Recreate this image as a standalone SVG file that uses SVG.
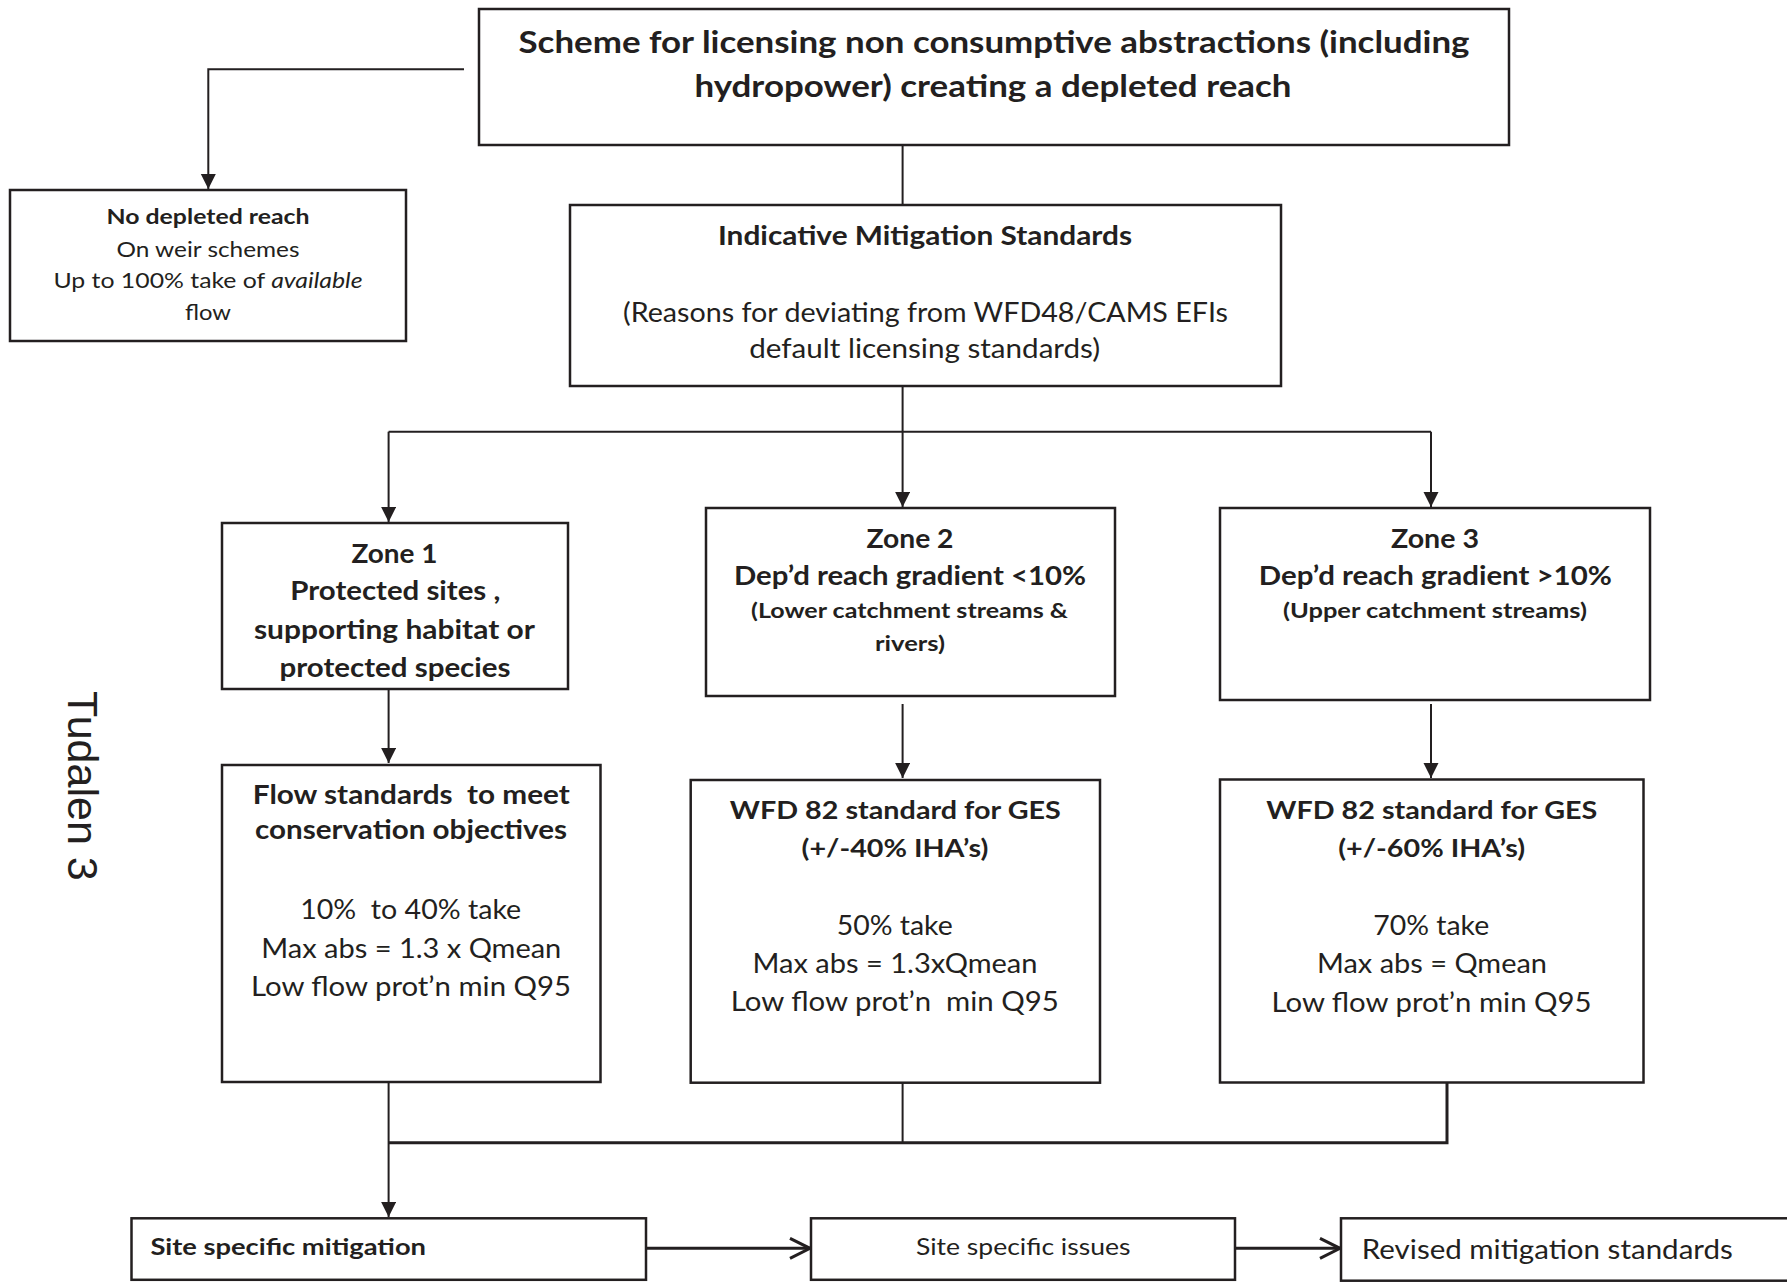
<svg xmlns="http://www.w3.org/2000/svg" width="1787" height="1285" viewBox="0 0 1787 1285">
<style>
.box{fill:#fff;stroke:#231f20;stroke-width:2.5}
.ln{fill:none;stroke:#231f20;stroke-width:2}
.lt{fill:none;stroke:#231f20;stroke-width:3}
text{font-family:Lato,"Open Sans","Liberation Sans",sans-serif;fill:#231f20}
.b{font-weight:bold}
.c{text-anchor:middle}
.s30{font-size:30px}.s26{font-size:26px}.s25{font-size:25px}.s23{font-size:23px}.s21{font-size:21px}
</style>
<defs>
<marker id="ah" markerUnits="userSpaceOnUse" markerWidth="16" markerHeight="16" refX="15" refY="7.5" orient="auto">
<path d="M0,0 L15,7.5 L0,15 z" fill="#231f20"/>
</marker>
<marker id="oa" markerUnits="userSpaceOnUse" markerWidth="26" markerHeight="26" refX="21" refY="11" orient="auto">
<path d="M1,1 L21,11 L1,21" fill="none" stroke="#231f20" stroke-width="3"/>
</marker>
</defs>
<rect width="1787" height="1285" fill="#fff"/>

<g id="connectors">
<polyline class="ln" points="464,69.3 208.3,69.3 208.3,189" marker-end="url(#ah)"/>
<line class="ln" x1="902.6" y1="145" x2="902.6" y2="205"/>
<line class="ln" x1="902.6" y1="386" x2="902.6" y2="507" marker-end="url(#ah)"/>
<line class="ln" x1="388.6" y1="431.7" x2="1431" y2="431.7"/>
<line class="ln" x1="388.6" y1="431.7" x2="388.6" y2="522" marker-end="url(#ah)"/>
<line class="ln" x1="1431" y1="431.7" x2="1431" y2="507" marker-end="url(#ah)"/>
<line class="ln" x1="388.6" y1="689" x2="388.6" y2="763" marker-end="url(#ah)"/>
<line class="ln" x1="902.6" y1="704" x2="902.6" y2="778" marker-end="url(#ah)"/>
<line class="ln" x1="1431" y1="704" x2="1431" y2="778" marker-end="url(#ah)"/>
<line class="ln" x1="388.6" y1="1082" x2="388.6" y2="1217" marker-end="url(#ah)"/>
<line class="ln" x1="902.6" y1="1082.7" x2="902.6" y2="1142.7"/>
<polyline class="lt" points="1447,1082 1447,1142.7 388.6,1142.7"/>
<line class="lt" x1="646" y1="1248.3" x2="810" y2="1248.3" marker-end="url(#oa)"/>
<line class="lt" x1="1235" y1="1248.3" x2="1340" y2="1248.3" marker-end="url(#oa)"/>
</g>

<g id="n-top">
<rect class="box" x="479" y="9" width="1030" height="136"/>
<text class="b c s30" x="994" y="53" textLength="951" lengthAdjust="spacingAndGlyphs">Scheme for licensing non consumptive abstractions (including</text>
<text class="b c s30" x="993" y="97" textLength="597" lengthAdjust="spacingAndGlyphs">hydropower) creating a depleted reach</text>
</g>

<g id="n-nodepleted">
<rect class="box" x="10" y="190" width="396" height="151"/>
<text class="b c s21" x="208" y="224" textLength="203" lengthAdjust="spacingAndGlyphs">No depleted reach</text>
<text class="c s21" x="208" y="256.7" textLength="183" lengthAdjust="spacingAndGlyphs">On weir schemes</text>
<text class="c s21" x="208" y="288.3" textLength="309" lengthAdjust="spacingAndGlyphs">Up to 100% take of <tspan font-style="italic">available</tspan></text>
<text class="c s21" x="208" y="320" textLength="46" lengthAdjust="spacingAndGlyphs">flow</text>
</g>

<g id="n-indicative">
<rect class="box" x="570" y="205" width="711" height="181"/>
<text class="b c s26" x="925" y="245" textLength="414" lengthAdjust="spacingAndGlyphs">Indicative Mitigation Standards</text>
<text class="c s26" x="925.5" y="322" textLength="605" lengthAdjust="spacingAndGlyphs">(Reasons for deviating from WFD48/CAMS EFIs</text>
<text class="c s26" x="924.7" y="358" textLength="351" lengthAdjust="spacingAndGlyphs">default licensing standards)</text>
</g>

<g id="n-zone1">
<rect class="box" x="222" y="523" width="346" height="166"/>
<text class="b c s26" x="394.5" y="562.7" textLength="86" lengthAdjust="spacingAndGlyphs">Zone 1</text>
<text class="b c s26" x="395.3" y="600" textLength="210" lengthAdjust="spacingAndGlyphs">Protected sites ,</text>
<text class="b c s26" x="394.4" y="639" textLength="281" lengthAdjust="spacingAndGlyphs">supporting habitat or</text>
<text class="b c s26" x="395" y="676.7" textLength="231" lengthAdjust="spacingAndGlyphs">protected species</text>
</g>

<g id="n-zone2">
<rect class="box" x="706" y="508" width="409" height="188"/>
<text class="b c s26" x="910" y="547.7" textLength="87" lengthAdjust="spacingAndGlyphs">Zone 2</text>
<text class="b c s26" x="910" y="585" textLength="352" lengthAdjust="spacingAndGlyphs">Dep’d reach gradient &lt;10%</text>
<text class="b c s21" x="909.5" y="618.3" textLength="317" lengthAdjust="spacingAndGlyphs">(Lower catchment streams &amp;</text>
<text class="b c s21" x="910" y="650.7" textLength="70" lengthAdjust="spacingAndGlyphs">rivers)</text>
</g>

<g id="n-zone3">
<rect class="box" x="1220" y="508" width="430" height="192"/>
<text class="b c s26" x="1435" y="547.7" textLength="88" lengthAdjust="spacingAndGlyphs">Zone 3</text>
<text class="b c s26" x="1435.3" y="585" textLength="353" lengthAdjust="spacingAndGlyphs">Dep’d reach gradient &gt;10%</text>
<text class="b c s21" x="1435" y="618.3" textLength="304" lengthAdjust="spacingAndGlyphs">(Upper catchment streams)</text>
</g>

<g id="n-flow">
<rect class="box" x="222" y="765" width="378.5" height="317"/>
<text class="b c s26" x="411.3" y="804" textLength="317" lengthAdjust="spacingAndGlyphs" xml:space="preserve">Flow standards  to meet</text>
<text class="b c s26" x="411" y="839.3" textLength="312" lengthAdjust="spacingAndGlyphs">conservation objectives</text>
<text class="c s26" x="410.7" y="919.3" textLength="221" lengthAdjust="spacingAndGlyphs" xml:space="preserve">10%  to 40% take</text>
<text class="c s26" x="411.3" y="958.3" textLength="300" lengthAdjust="spacingAndGlyphs">Max abs = 1.3 x Qmean</text>
<text class="c s26" x="411" y="996" textLength="320" lengthAdjust="spacingAndGlyphs">Low flow prot’n min Q95</text>
</g>

<g id="n-wfd2">
<rect class="box" x="690.7" y="780" width="409.3" height="302.7"/>
<text class="b c s25" x="895.3" y="819.3" textLength="331" lengthAdjust="spacingAndGlyphs">WFD 82 standard for GES</text>
<text class="b c s25" x="895" y="857.3" textLength="187" lengthAdjust="spacingAndGlyphs">(+/-40% IHA’s)</text>
<text class="c s26" x="894.7" y="935" textLength="116" lengthAdjust="spacingAndGlyphs">50% take</text>
<text class="c s26" x="895" y="973.3" textLength="285" lengthAdjust="spacingAndGlyphs">Max abs = 1.3xQmean</text>
<text class="c s26" x="894.8" y="1010.7" textLength="328" lengthAdjust="spacingAndGlyphs" xml:space="preserve">Low flow prot’n  min Q95</text>
</g>

<g id="n-wfd3">
<rect class="box" x="1220" y="779.5" width="423.5" height="303"/>
<text class="b c s25" x="1431.8" y="819.3" textLength="331" lengthAdjust="spacingAndGlyphs">WFD 82 standard for GES</text>
<text class="b c s25" x="1431.7" y="857.3" textLength="187" lengthAdjust="spacingAndGlyphs">(+/-60% IHA’s)</text>
<text class="c s26" x="1431.2" y="935" textLength="116" lengthAdjust="spacingAndGlyphs">70% take</text>
<text class="c s26" x="1432" y="973.3" textLength="230" lengthAdjust="spacingAndGlyphs">Max abs = Qmean</text>
<text class="c s26" x="1431.5" y="1011.7" textLength="320" lengthAdjust="spacingAndGlyphs">Low flow prot’n min Q95</text>
</g>

<g id="n-sitemitigation">
<rect class="box" x="131.5" y="1218.3" width="514.5" height="61.5"/>
<text class="b s23" x="150.4" y="1255" textLength="275.6" lengthAdjust="spacingAndGlyphs">Site specific mitigation</text>
</g>

<g id="n-siteissues">
<rect class="box" x="811" y="1218.3" width="424" height="61.5"/>
<text class="c s23" x="1023.2" y="1255" textLength="214.6" lengthAdjust="spacingAndGlyphs">Site specific issues</text>
</g>

<g id="n-revised">
<rect class="box" x="1341" y="1218.3" width="460" height="62.4"/>
<text class="s26" x="1361.8" y="1259" textLength="371" lengthAdjust="spacingAndGlyphs">Revised mitigation standards</text>
</g>

<g id="page-label">
<text transform="translate(68,691) rotate(90)" x="0" y="0" font-size="43" style="font-family:'Liberation Sans',Arial,sans-serif">Tudalen 3</text>
</g>
</svg>
